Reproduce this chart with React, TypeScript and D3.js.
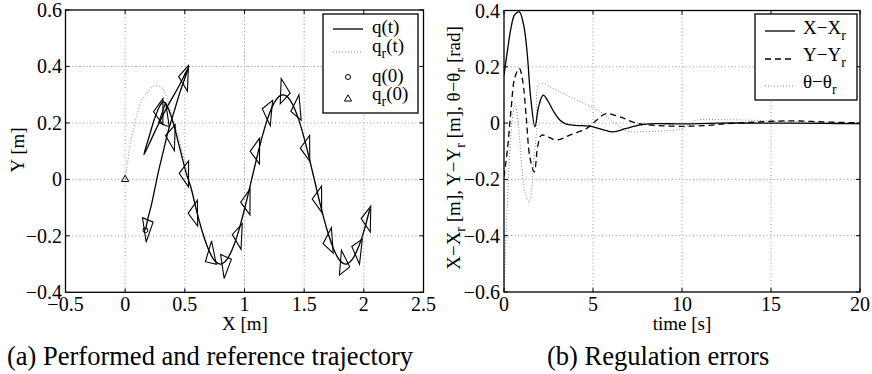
import React from "react";
import * as d3 from "d3";

// ---------------- data ----------------
const xTicksA = [-0.5, 0, 0.5, 1, 1.5, 2, 2.5];
const yTicksA = [-0.4, -0.2, 0, 0.2, 0.4, 0.6];
const xTicksB = [0, 5, 10, 15, 20];
const yTicksB = [-0.6, -0.4, -0.2, 0, 0.2, 0.4];

// common sinusoidal part of performed and reference trajectories
const sineX = [0.55, 0.6, 0.65, 0.7, 0.75, 0.8, 0.85, 0.9, 0.95, 1.0, 1.05, 1.1, 1.15, 1.2, 1.25, 1.3, 1.35, 1.4, 1.45, 1.5, 1.55, 1.6, 1.65, 1.7, 1.75, 1.8, 1.85, 1.9, 1.95, 2.0, 2.05];
const sineY = [-0.027, -0.114, -0.19, -0.25, -0.288, -0.3, -0.285, -0.245, -0.184, -0.105, -0.018, 0.071, 0.154, 0.223, 0.272, 0.297, 0.296, 0.268, 0.217, 0.146, 0.062, -0.027, -0.114, -0.19, -0.25, -0.288, -0.3, -0.285, -0.245, -0.184, -0.105];

// initial transient of performed trajectory q(t)
const qStartX = [0.17, 0.19, 0.22, 0.25, 0.28, 0.32, 0.36, 0.41, 0.46, 0.51, 0.535, 0.45, 0.35, 0.25, 0.157, 0.2, 0.25, 0.29, 0.32, 0.345, 0.38, 0.41, 0.44, 0.47, 0.5, 0.52];
const qStartY = [-0.18, -0.14, -0.09, -0.03, 0.03, 0.1, 0.17, 0.24, 0.31, 0.37, 0.4, 0.33, 0.255, 0.17, 0.087, 0.15, 0.22, 0.26, 0.275, 0.265, 0.23, 0.19, 0.14, 0.09, 0.04, 0.01];

// initial part of reference trajectory q_r(t)
const qrStartX = [0, 0.02, 0.04, 0.07, 0.1, 0.14, 0.19, 0.24, 0.29, 0.33, 0.37, 0.41, 0.45, 0.5];
const qrStartY = [0, 0.06, 0.12, 0.18, 0.23, 0.28, 0.31, 0.33, 0.33, 0.31, 0.26, 0.2, 0.146, 0.062];

// robot poses drawn as triangles (x, y, heading in degrees)
const poseX = [0.185, 0.29, 0.33, 0.39, 0.5, 0.505, 0.58, 0.72, 0.84, 0.95, 1.02, 1.1, 1.2, 1.33, 1.44, 1.52, 1.62, 1.71, 1.83, 1.95, 2.03];
const poseY = [-0.17, 0.24, 0.22, 0.15, 0.36, 0.02, -0.12, -0.27, -0.3, -0.2, -0.08, 0.1, 0.24, 0.31, 0.25, 0.11, -0.07, -0.22, -0.3, -0.25, -0.14];
const poseTheta = [-100, 60, 80, -65, 55, -61, -59, -35, 19, 54, 60, 60, 48, -5, -49, -60, -60, -51, -11, 46, 58];

const q0 = [0.17, -0.18];
const qr0 = [0, 0];

// regulation errors
const tErrX = [0, 0.2, 0.4, 0.6, 0.86, 1.1, 1.3, 1.5, 1.74, 1.95, 2.2, 2.5, 2.8, 3.15, 3.5, 4.0, 4.83, 5.5, 6.14, 6.8, 7.6, 8.5, 10, 12, 15, 18, 20];
const errX = [0.17, 0.26, 0.34, 0.385, 0.395, 0.35, 0.25, 0.09, -0.013, 0.06, 0.099, 0.075, 0.04, 0.01, -0.004, -0.008, -0.011, -0.022, -0.031, -0.02, -0.007, -0.002, -0.003, 0, 0, -0.001, -0.002];

const tErrY = [0, 0.2, 0.4, 0.6, 0.86, 1.05, 1.25, 1.45, 1.7, 1.9, 2.1, 2.5, 2.96, 3.8, 4.64, 5.2, 5.7, 6.5, 7.45, 8.5, 9.5, 10.5, 11.5, 12.5, 14, 16, 18, 20];
const errY = [-0.19, -0.09, 0.05, 0.16, 0.194, 0.15, 0.02, -0.12, -0.173, -0.08, -0.043, -0.05, -0.06, -0.04, -0.019, 0.01, 0.033, 0.022, 0, -0.008, -0.011, -0.011, -0.008, -0.002, 0.003, 0.008, 0.004, 0.001];

const tErrTh = [0, 0.15, 0.34, 0.5, 0.62, 0.8, 1.0, 1.2, 1.4, 1.55, 1.65, 1.83, 2.02, 3.0, 4.08, 5.3, 6.33, 6.9, 8, 9, 10, 10.8, 12, 14, 16, 18, 20];
const errTh = [-0.6, -0.34, -0.084, 0.03, 0.07, 0.0, -0.155, -0.25, -0.28, -0.24, -0.15, -0.03, 0.14, 0.115, 0.082, 0.045, -0.005, -0.028, -0.03, -0.028, -0.02, 0.01, 0.012, 0.01, 0.005, 0.002, -0.003];

// ---------------- drawing ----------------
const FONT = '"Liberation Serif", "Times New Roman", Times, serif';
const GRID = "#8a8a8a";

const fmt = (v: number) => (v < 0 ? "\u2212" : "") + String(Math.abs(v));

export default function App() {
  const xA = d3.scaleLinear().domain([-0.5, 2.5]).range([65.5, 423.5]);
  const yA = d3.scaleLinear().domain([-0.4, 0.6]).range([292.3, 10]);
  const xB = d3.scaleLinear().domain([0, 20]).range([504, 860]);
  const yB = d3.scaleLinear().domain([-0.6, 0.4]).range([292, 10.5]);

  const lineA = d3
    .line<[number, number]>()
    .x((d) => xA(d[0]))
    .y((d) => yA(d[1]))
    .curve(d3.curveCatmullRom.alpha(0.5));
  const lineB = d3
    .line<[number, number]>()
    .x((d) => xB(d[0]))
    .y((d) => yB(d[1]))
    .curve(d3.curveCatmullRom.alpha(0.5));

  const qPts: [number, number][] = [
    ...qStartX.map((x, i) => [x, qStartY[i]] as [number, number]),
    ...sineX.map((x, i) => [x, sineY[i]] as [number, number]),
  ];
  const qrPts: [number, number][] = [
    ...qrStartX.map((x, i) => [x, qrStartY[i]] as [number, number]),
    ...sineX.map((x, i) => [x, sineY[i]] as [number, number]),
  ];

  const L = 0.08;
  const W = 0.045;
  const triPath = (px: number, py: number, deg: number) => {
    const a = (deg * Math.PI) / 180;
    const ux = Math.cos(a), uy = Math.sin(a);
    const nx = -uy, ny = ux;
    const ax = px + (2 / 3) * L * ux, ay = py + (2 / 3) * L * uy;
    const bx = px - (1 / 3) * L * ux, by = py - (1 / 3) * L * uy;
    const p1 = [bx + W * nx, by + W * ny];
    const p2 = [bx - W * nx, by - W * ny];
    return `M${xA(ax)},${yA(ay)}L${xA(p1[0])},${yA(p1[1])}L${xA(p2[0])},${yA(p2[1])}Z`;
  };

  const errPts = (t: number[], v: number[]) => t.map((x, i) => [x, v[i]] as [number, number]);

  const A = { l: xA.range()[0], r: xA.range()[1], t: yA.range()[1], b: yA.range()[0] };
  const B = { l: xB.range()[0], r: xB.range()[1], t: yB.range()[1], b: yB.range()[0] };
  const tk = 4;

  const tickFs = 20;
  const labFs = 19;
  const ts = { fontFamily: FONT };

  return (
    <svg
      width={872}
      height={374}
      style={{ position: "absolute", left: 0, top: 0, background: "#fff", fontFamily: FONT }}
    >
      <rect x={0} y={0} width={872} height={374} fill="#fff" />
      <defs>
        <clipPath id="clipA">
          <rect x={A.l} y={A.t} width={A.r - A.l} height={A.b - A.t} />
        </clipPath>
        <clipPath id="clipB">
          <rect x={B.l} y={B.t} width={B.r - B.l} height={B.b - B.t} />
        </clipPath>
      </defs>

      {/* ---------- Panel A ---------- */}
      <g>
        {xTicksA.slice(1, -1).map((v) => (
          <line key={"gxa" + v} x1={xA(v)} x2={xA(v)} y1={A.t} y2={A.b} stroke={GRID} strokeWidth={0.9} strokeDasharray="1 2.5" />
        ))}
        {yTicksA.slice(1, -1).map((v) => (
          <line key={"gya" + v} y1={yA(v)} y2={yA(v)} x1={A.l} x2={A.r} stroke={GRID} strokeWidth={0.9} strokeDasharray="1 2.5" />
        ))}
        <g clipPath="url(#clipA)">
          <path d={lineA(qrPts) || ""} fill="none" stroke="#888" strokeWidth={1} strokeDasharray="1 2" />
          <path d={lineA(qPts) || ""} fill="none" stroke="#000" strokeWidth={1.3} />
          {poseX.map((x, i) => (
            <path key={"tri" + i} d={triPath(x, poseY[i], poseTheta[i])} fill="none" stroke="#000" strokeWidth={1.1} strokeLinejoin="miter" />
          ))}
          <circle cx={xA(q0[0])} cy={yA(q0[1])} r={2.5} fill="none" stroke="#000" strokeWidth={1} />
          <path
            d={d3.symbol().type(d3.symbolTriangle).size(22)() || ""}
            transform={`translate(${xA(qr0[0])},${yA(qr0[1])})`}
            fill="none"
            stroke="#000"
            strokeWidth={1}
          />
        </g>
        {/* ticks */}
        {xTicksA.map((v) => (
          <g key={"txa" + v}>
            <line x1={xA(v)} x2={xA(v)} y1={A.b} y2={A.b - tk} stroke="#000" />
            <line x1={xA(v)} x2={xA(v)} y1={A.t} y2={A.t + tk} stroke="#000" />
            <text style={ts} x={xA(v)} y={311} textAnchor="middle" fontSize={tickFs}>{fmt(v)}</text>
          </g>
        ))}
        {yTicksA.map((v) => (
          <g key={"tya" + v}>
            <line x1={A.l} x2={A.l + tk} y1={yA(v)} y2={yA(v)} stroke="#000" />
            <line x1={A.r} x2={A.r - tk} y1={yA(v)} y2={yA(v)} stroke="#000" />
            <text style={ts} x={62} y={yA(v) + 7} textAnchor="end" fontSize={tickFs}>{fmt(v)}</text>
          </g>
        ))}
        <rect x={A.l} y={A.t} width={A.r - A.l} height={A.b - A.t} fill="none" stroke="#000" strokeWidth={1.3} />
        <text style={ts} x={245} y={330} textAnchor="middle" fontSize={labFs}>X [m]</text>
        <text style={ts} transform="translate(24,150) rotate(-90)" textAnchor="middle" fontSize={labFs}>Y [m]</text>

        {/* legend A */}
        <rect x={323} y={14} width={95} height={99} fill="#fff" stroke="#000" strokeWidth={1.3} />
        <line x1={333} x2={363} y1={29} y2={29} stroke="#000" strokeWidth={1.3} />
        <text style={ts} x={372} y={33} fontSize={labFs}>q(t)</text>
        <line x1={333} x2={363} y1={52} y2={52} stroke="#888" strokeWidth={1} strokeDasharray="1 2" />
        <text style={ts} x={372} y={52} fontSize={labFs}>
          q<tspan dy={6} fontSize={14}>r</tspan>
          <tspan dy={-6}>(t)</tspan>
        </text>
        <circle cx={348} cy={77} r={2.5} fill="none" stroke="#000" strokeWidth={1} />
        <text style={ts} x={372} y={82} fontSize={labFs}>q(0)</text>
        <path
          d={d3.symbol().type(d3.symbolTriangle).size(22)() || ""}
          transform="translate(348,99)"
          fill="none"
          stroke="#000"
          strokeWidth={1}
        />
        <text style={ts} x={372} y={100} fontSize={labFs}>
          q<tspan dy={6} fontSize={14}>r</tspan>
          <tspan dy={-6}>(0)</tspan>
        </text>
      </g>

      {/* ---------- Panel B ---------- */}
      <g>
        {xTicksB.slice(1, -1).map((v) => (
          <line key={"gxb" + v} x1={xB(v)} x2={xB(v)} y1={B.t} y2={B.b} stroke={GRID} strokeWidth={0.9} strokeDasharray="1 2.5" />
        ))}
        {yTicksB.slice(1, -1).map((v) => (
          <line key={"gyb" + v} y1={yB(v)} y2={yB(v)} x1={B.l} x2={B.r} stroke={GRID} strokeWidth={0.9} strokeDasharray="1 2.5" />
        ))}
        <g clipPath="url(#clipB)">
          <path d={lineB(errPts(tErrTh, errTh)) || ""} fill="none" stroke="#888" strokeWidth={1} strokeDasharray="1 2" />
          <path d={lineB(errPts(tErrY, errY)) || ""} fill="none" stroke="#000" strokeWidth={1.3} strokeDasharray="6 4" />
          <path d={lineB(errPts(tErrX, errX)) || ""} fill="none" stroke="#000" strokeWidth={1.3} />
        </g>
        {xTicksB.map((v) => (
          <g key={"txb" + v}>
            <line x1={xB(v)} x2={xB(v)} y1={B.b} y2={B.b - tk} stroke="#000" />
            <line x1={xB(v)} x2={xB(v)} y1={B.t} y2={B.t + tk} stroke="#000" />
            <text style={ts} x={xB(v)} y={311} textAnchor="middle" fontSize={tickFs}>{fmt(v)}</text>
          </g>
        ))}
        {yTicksB.map((v) => (
          <g key={"tyb" + v}>
            <line x1={B.l} x2={B.l + tk} y1={yB(v)} y2={yB(v)} stroke="#000" />
            <line x1={B.r} x2={B.r - tk} y1={yB(v)} y2={yB(v)} stroke="#000" />
            <text style={ts} x={500} y={yB(v) + 7} textAnchor="end" fontSize={tickFs}>{fmt(v)}</text>
          </g>
        ))}
        <rect x={B.l} y={B.t} width={B.r - B.l} height={B.b - B.t} fill="none" stroke="#000" strokeWidth={1.3} />
        <text style={ts} x={682} y={330} textAnchor="middle" fontSize={labFs}>time [s]</text>
        <text style={ts} transform="translate(460,148) rotate(-90)" textAnchor="middle" fontSize={labFs}>
          X{"\u2212"}X<tspan dy={5} fontSize={14}>r</tspan>
          <tspan dy={-5}> [m], Y{"\u2212"}Y</tspan>
          <tspan dy={5} fontSize={14}>r</tspan>
          <tspan dy={-5}> [m], {"\u03B8\u2212\u03B8"}</tspan>
          <tspan dy={5} fontSize={14}>r</tspan>
          <tspan dy={-5}> [rad]</tspan>
        </text>

        {/* legend B */}
        <rect x={755} y={14} width={102} height={86} fill="#fff" stroke="#000" strokeWidth={1.3} />
        <line x1={765} x2={795} y1={31} y2={31} stroke="#000" strokeWidth={1.3} />
        <text style={ts} x={803} y={34} fontSize={labFs}>
          X{"\u2212"}X<tspan dy={6} fontSize={14}>r</tspan>
        </text>
        <line x1={765} x2={795} y1={59} y2={59} stroke="#000" strokeWidth={1.3} strokeDasharray="6 4" />
        <text style={ts} x={803} y={61} fontSize={labFs}>
          Y{"\u2212"}Y<tspan dy={6} fontSize={14}>r</tspan>
        </text>
        <line x1={765} x2={795} y1={86} y2={86} stroke="#888" strokeWidth={1} strokeDasharray="1 2" />
        <text style={ts} x={803} y={88} fontSize={labFs}>
          {"\u03B8\u2212\u03B8"}<tspan dy={6} fontSize={14}>r</tspan>
        </text>
      </g>

      {/* captions */}
      <text style={ts} x={7} y={365} fontSize={26.5}>(a) Performed and reference trajectory</text>
      <text style={ts} x={547} y={365} fontSize={26.5}>(b) Regulation errors</text>
    </svg>
  );
}
